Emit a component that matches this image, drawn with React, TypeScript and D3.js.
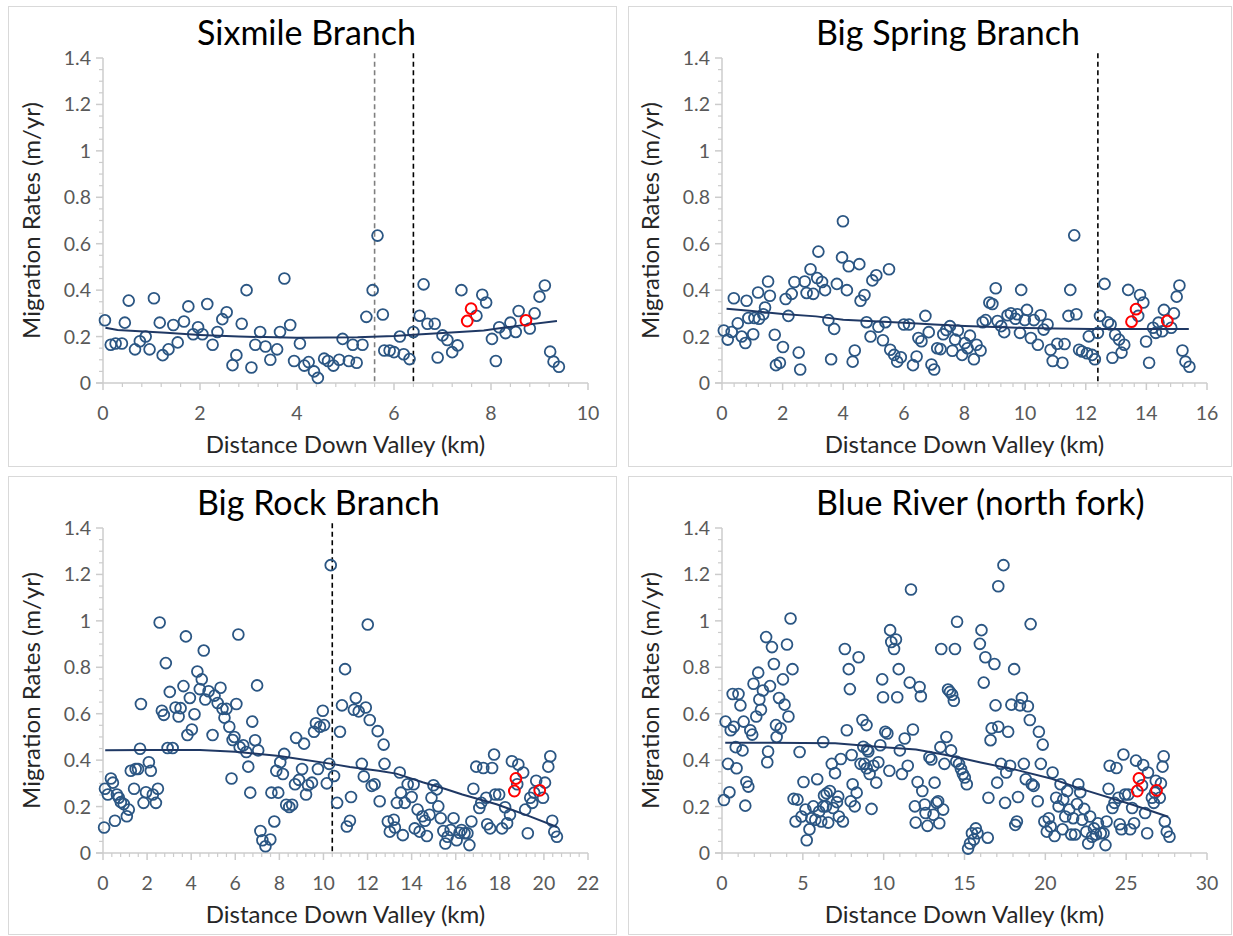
import React from 'react';
import * as d3 from 'd3';

type Pt = [number, number];

// ---------- Sixmile Branch ----------
const sixmilePoints: Pt[] = [
  [0.04,0.27],[0.16,0.165],[0.26,0.17],[0.39,0.17],[0.45,0.26],[0.53,0.355],[0.66,0.145],[0.76,0.18],[0.88,0.2],[0.96,0.145],
  [1.05,0.365],[1.17,0.26],[1.23,0.12],[1.35,0.145],[1.45,0.25],[1.54,0.175],[1.67,0.265],[1.76,0.33],[1.86,0.21],[1.96,0.24],
  [2.05,0.21],[2.15,0.34],[2.26,0.165],[2.36,0.22],[2.46,0.275],[2.55,0.305],[2.67,0.077],[2.75,0.12],[2.86,0.255],[2.96,0.4],
  [3.06,0.067],[3.14,0.165],[3.24,0.22],[3.35,0.157],[3.45,0.1],[3.59,0.145],[3.65,0.22],[3.74,0.45],[3.86,0.25],[3.94,0.095],
  [4.06,0.17],[4.15,0.075],[4.24,0.09],[4.35,0.05],[4.43,0.022],[4.56,0.105],[4.64,0.095],[4.75,0.075],[4.87,0.1],[4.94,0.19],
  [5.07,0.095],[5.15,0.165],[5.23,0.087],[5.35,0.165],[5.43,0.285],[5.56,0.4],[5.66,0.635],[5.77,0.295],[5.8,0.14],[5.91,0.14],
  [6.0,0.133],[6.12,0.2],[6.2,0.124],[6.32,0.103],[6.4,0.22],[6.53,0.29],[6.61,0.425],[6.69,0.255],[6.84,0.255],[6.9,0.11],
  [7.0,0.205],[7.1,0.185],[7.2,0.133],[7.31,0.162],[7.39,0.4],[7.7,0.29],[7.82,0.38],[7.9,0.347],[8.02,0.19],[8.1,0.095],
  [8.17,0.24],[8.3,0.215],[8.4,0.26],[8.51,0.22],[8.57,0.31],[8.8,0.235],[8.9,0.3],[9.0,0.372],[9.11,0.42],[9.22,0.135],
  [9.29,0.092],[9.4,0.07],
];
const sixmileHighlight: Pt[] = [[7.51,0.267],[7.59,0.32],[8.72,0.27]];
const sixmileTrend: Pt[] = [
  [0.05,0.238],[0.3,0.228],[1.3,0.216],[2.0,0.207],[2.8,0.2],[4.0,0.195],[5.25,0.197],[6.0,0.202],[6.4,0.208],
  [7.35,0.22],[7.85,0.226],[8.5,0.245],[9.36,0.267],
];

// ---------- Big Spring Branch ----------
const bigSpringPoints: Pt[] = [
  [0.06,0.226],[0.19,0.187],[0.32,0.22],[0.39,0.365],[0.52,0.257],[0.65,0.2],[0.77,0.172],[0.81,0.354],[0.87,0.28],[1.03,0.21],
  [1.07,0.28],[1.19,0.39],[1.22,0.277],[1.36,0.296],[1.42,0.325],[1.52,0.437],[1.58,0.376],[1.74,0.208],[1.78,0.077],[1.91,0.087],
  [2.01,0.155],[2.1,0.362],[2.19,0.289],[2.3,0.384],[2.39,0.435],[2.53,0.131],[2.58,0.058],[2.73,0.437],[2.79,0.388],[2.92,0.49],
  [3.01,0.384],[3.14,0.452],[3.18,0.566],[3.3,0.435],[3.4,0.4],[3.51,0.271],[3.6,0.102],[3.7,0.233],[3.79,0.427],[3.96,0.541],
  [3.99,0.697],[4.12,0.4],[4.18,0.503],[4.31,0.092],[4.38,0.14],[4.53,0.512],[4.57,0.354],[4.7,0.379],[4.77,0.262],[4.9,0.2],
  [4.96,0.442],[5.09,0.464],[5.16,0.242],[5.31,0.184],[5.39,0.262],[5.51,0.49],[5.55,0.143],[5.68,0.121],[5.78,0.092],[5.9,0.111],
  [6.0,0.252],[6.17,0.252],[6.3,0.077],[6.42,0.114],[6.48,0.194],[6.58,0.18],[6.71,0.289],[6.82,0.219],[6.91,0.08],[7.0,0.058],
  [7.1,0.15],[7.21,0.146],[7.3,0.21],[7.4,0.228],[7.52,0.245],[7.6,0.139],[7.69,0.187],[7.78,0.226],[7.92,0.121],[8.01,0.172],
  [8.1,0.15],[8.18,0.204],[8.31,0.102],[8.4,0.165],[8.53,0.14],[8.6,0.262],[8.7,0.271],[8.82,0.347],[8.92,0.34],[9.03,0.408],
  [9.09,0.267],[9.21,0.245],[9.31,0.219],[9.42,0.292],[9.53,0.3],[9.68,0.277],[9.74,0.296],[9.83,0.216],[9.87,0.401],[9.99,0.271],
  [10.06,0.315],[10.19,0.194],[10.29,0.271],[10.42,0.165],[10.51,0.292],[10.61,0.23],[10.74,0.252],[10.84,0.143],[10.91,0.095],[11.06,0.169],
  [11.23,0.087],[11.3,0.168],[11.43,0.289],[11.49,0.401],[11.62,0.636],[11.69,0.296],[11.78,0.143],[11.88,0.136],[12.04,0.128],[12.1,0.201],
  [12.21,0.121],[12.3,0.102],[12.4,0.216],[12.47,0.289],[12.62,0.427],[12.73,0.262],[12.82,0.252],[12.88,0.109],[12.97,0.208],[13.1,0.187],
  [13.18,0.131],[13.27,0.165],[13.4,0.401],[13.73,0.289],[13.79,0.379],[13.9,0.347],[13.99,0.179],[14.09,0.087],[14.22,0.238],[14.31,0.216],
  [14.4,0.26],[14.52,0.223],[14.58,0.315],[14.82,0.238],[14.91,0.3],[15.0,0.372],[15.09,0.42],[15.19,0.14],[15.29,0.092],[15.42,0.07],
];
const bigSpringHighlight: Pt[] = [[13.51,0.264],[13.66,0.318],[14.69,0.267]];
const bigSpringTrend: Pt[] = [
  [0.15,0.32],[1.0,0.31],[2.0,0.297],[3.1,0.287],[4.0,0.272],[5.0,0.266],[6.0,0.26],[7.0,0.252],[8.0,0.246],
  [9.0,0.241],[10.0,0.237],[11.0,0.235],[12.2,0.233],[13.5,0.233],[15.4,0.233],
];

// ---------- Big Rock Branch ----------
const bigRockPoints: Pt[] = [
  [0.05,0.11],[0.09,0.277],[0.22,0.252],[0.36,0.321],[0.45,0.303],[0.54,0.139],[0.63,0.252],[0.72,0.238],[0.81,0.219],[0.94,0.211],
  [1.08,0.158],[1.17,0.187],[1.26,0.354],[1.41,0.277],[1.48,0.362],[1.59,0.362],[1.68,0.449],[1.72,0.642],[1.84,0.216],[1.95,0.262],
  [2.08,0.391],[2.17,0.354],[2.26,0.252],[2.4,0.216],[2.49,0.277],[2.57,0.993],[2.67,0.613],[2.76,0.595],[2.85,0.818],[2.93,0.452],
  [3.03,0.694],[3.16,0.452],[3.29,0.627],[3.43,0.588],[3.52,0.624],[3.65,0.719],[3.76,0.933],[3.83,0.508],[3.94,0.668],[4.03,0.532],
  [4.15,0.598],[4.28,0.782],[4.39,0.706],[4.48,0.748],[4.57,0.872],[4.64,0.661],[4.79,0.697],[4.97,0.508],[5.06,0.678],[5.2,0.646],
  [5.33,0.712],[5.42,0.621],[5.51,0.583],[5.6,0.621],[5.73,0.544],[5.83,0.321],[5.88,0.487],[5.96,0.5],[6.05,0.642],[6.14,0.941],
  [6.2,0.456],[6.36,0.464],[6.5,0.435],[6.59,0.372],[6.68,0.26],[6.77,0.566],[6.9,0.486],[6.99,0.722],[7.04,0.442],[7.14,0.095],
  [7.23,0.055],[7.37,0.029],[7.59,0.058],[7.64,0.26],[7.77,0.136],[7.86,0.354],[7.95,0.26],[8.04,0.391],[8.16,0.34],[8.22,0.427],
  [8.31,0.208],[8.45,0.198],[8.58,0.208],[8.71,0.296],[8.76,0.496],[8.89,0.315],[9.03,0.362],[9.12,0.471],[9.21,0.252],[9.3,0.292],
  [9.48,0.303],[9.57,0.522],[9.66,0.559],[9.75,0.362],[9.84,0.544],[9.97,0.613],[10.03,0.551],[10.15,0.3],[10.26,0.384],[10.33,1.24],
  [10.48,0.332],[10.62,0.216],[10.75,0.522],[10.84,0.636],[10.98,0.792],[11.06,0.114],[11.2,0.139],[11.25,0.241],[11.38,0.617],[11.47,0.668],
  [11.6,0.61],[11.74,0.384],[11.83,0.33],[11.92,0.627],[12.01,0.984],[12.1,0.573],[12.19,0.289],[12.32,0.296],[12.46,0.525],[12.55,0.223],
  [12.73,0.467],[12.77,0.384],[12.92,0.136],[13.01,0.092],[13.19,0.143],[13.24,0.11],[13.33,0.216],[13.46,0.347],[13.51,0.26],[13.6,0.077],
  [13.69,0.216],[13.82,0.296],[14.0,0.241],[14.09,0.296],[14.14,0.106],[14.27,0.187],[14.36,0.092],[14.49,0.158],[14.6,0.139],[14.69,0.073],
  [14.81,0.165],[14.9,0.238],[14.99,0.292],[15.14,0.274],[15.21,0.201],[15.32,0.15],[15.44,0.095],[15.53,0.041],[15.63,0.07],[15.77,0.099],
  [15.9,0.15],[16.04,0.055],[16.17,0.087],[16.26,0.099],[16.4,0.085],[16.53,0.085],[16.62,0.034],[16.71,0.136],[16.8,0.277],[16.93,0.372],
  [17.07,0.194],[17.16,0.216],[17.25,0.366],[17.38,0.238],[17.43,0.124],[17.56,0.106],[17.65,0.366],[17.74,0.424],[17.79,0.252],[17.97,0.252],
  [18.1,0.106],[18.24,0.197],[18.33,0.128],[18.46,0.165],[18.55,0.395],[18.79,0.296],[18.84,0.381],[19.06,0.347],[19.15,0.187],[19.27,0.085],
  [19.38,0.238],[19.47,0.216],[19.56,0.26],[19.65,0.311],[19.96,0.238],[20.05,0.303],[20.2,0.372],[20.29,0.417],[20.38,0.139],[20.47,0.092],
  [20.59,0.07],
];
const bigRockHighlight: Pt[] = [[18.66,0.267],[18.73,0.321],[19.81,0.27]];
const bigRockTrend: Pt[] = [
  [0.1,0.443],[2.0,0.444],[4.4,0.444],[6.0,0.436],[8.0,0.418],[10.3,0.385],[11.2,0.37],[12.5,0.354],[13.3,0.342],
  [14.5,0.305],[15.5,0.277],[16.3,0.252],[17.85,0.21],[19.36,0.158],[20.6,0.112],
];

// ---------- Blue River (north fork) ----------
const blueRiverPoints: Pt[] = [
  [0.12,0.228],[0.22,0.566],[0.37,0.384],[0.46,0.262],[0.54,0.529],[0.66,0.685],[0.73,0.544],[0.85,0.456],[0.9,0.365],[1.02,0.685],
  [1.14,0.636],[1.27,0.442],[1.34,0.566],[1.44,0.204],[1.51,0.306],[1.63,0.286],[1.75,0.529],[1.87,0.51],[1.95,0.729],[2.12,0.588],
  [2.24,0.777],[2.31,0.661],[2.41,0.617],[2.53,0.7],[2.73,0.93],[2.8,0.391],[2.85,0.437],[2.97,0.719],[3.09,0.887],[3.21,0.814],
  [3.34,0.551],[3.38,0.5],[3.53,0.668],[3.63,0.537],[3.77,0.748],[3.87,0.639],[4.02,0.898],[4.11,0.588],[4.24,1.01],[4.36,0.792],
  [4.43,0.233],[4.55,0.136],[4.67,0.23],[4.8,0.435],[4.92,0.157],[5.04,0.306],[5.16,0.187],[5.24,0.055],[5.41,0.102],[5.53,0.15],
  [5.65,0.201],[5.77,0.143],[5.89,0.318],[6.01,0.179],[6.14,0.136],[6.26,0.478],[6.26,0.2],[6.31,0.248],[6.43,0.201],[6.47,0.257],
  [6.57,0.131],[6.67,0.267],[6.79,0.384],[6.87,0.194],[6.99,0.344],[7.11,0.219],[7.19,0.243],[7.23,0.157],[7.35,0.405],[7.48,0.136],
  [7.6,0.879],[7.72,0.529],[7.84,0.792],[7.91,0.706],[7.96,0.223],[8.02,0.422],[8.08,0.296],[8.21,0.201],[8.33,0.26],[8.45,0.843],
  [8.57,0.384],[8.69,0.573],[8.74,0.458],[8.81,0.384],[8.94,0.551],[8.95,0.365],[8.98,0.446],[9.05,0.437],[9.13,0.34],[9.25,0.19],
  [9.37,0.376],[9.54,0.303],[9.67,0.391],[9.79,0.464],[9.91,0.748],[9.96,0.671],[10.1,0.522],[10.23,0.515],[10.35,0.354],[10.4,0.96],
  [10.47,0.909],[10.64,0.879],[10.76,0.92],[10.84,0.671],[10.93,0.792],[11.0,0.442],[11.13,0.34],[11.3,0.493],[11.49,0.376],[11.61,0.734],
  [11.69,1.135],[11.81,0.532],[11.93,0.201],[11.98,0.131],[12.1,0.306],[12.22,0.715],[12.3,0.675],[12.39,0.267],[12.54,0.209],[12.59,0.172],
  [12.71,0.117],[12.83,0.413],[12.95,0.403],[13.08,0.165],[13.15,0.303],[13.27,0.216],[13.37,0.223],[13.44,0.128],[13.51,0.456],[13.56,0.879],
  [13.68,0.187],[13.76,0.384],[13.88,0.5],[13.98,0.704],[14.1,0.694],[14.17,0.442],[14.24,0.682],[14.34,0.656],[14.41,0.879],[14.49,0.394],
  [14.54,0.996],[14.66,0.384],[14.78,0.362],[14.9,0.34],[15.02,0.325],[15.14,0.296],[15.22,0.019],[15.34,0.041],[15.46,0.085],[15.58,0.058],
  [15.7,0.106],[15.8,0.085],[15.95,0.901],[16.05,0.96],[16.19,0.734],[16.29,0.843],[16.44,0.066],[16.48,0.238],[16.61,0.486],[16.68,0.537],
  [16.85,0.814],[16.92,0.636],[17.02,0.303],[17.09,0.544],[17.09,1.149],[17.26,0.384],[17.41,1.24],[17.51,0.216],[17.58,0.347],[17.7,0.522],
  [17.82,0.376],[17.9,0.639],[18.07,0.792],[18.14,0.121],[18.24,0.136],[18.31,0.241],[18.43,0.636],[18.55,0.668],[18.67,0.384],[18.79,0.318],
  [18.92,0.632],[19.04,0.573],[19.09,0.986],[19.16,0.296],[19.28,0.289],[19.53,0.223],[19.6,0.522],[19.72,0.384],[19.84,0.467],[19.94,0.136],
  [20.09,0.092],[20.21,0.15],[20.33,0.114],[20.45,0.347],[20.57,0.073],[20.67,0.238],[20.82,0.201],[20.94,0.296],[21.06,0.102],[21.11,0.23],
  [21.23,0.157],[21.35,0.267],[21.48,0.187],[21.6,0.08],[21.72,0.15],[21.84,0.08],[21.96,0.211],[22.04,0.296],[22.16,0.262],[22.28,0.143],
  [22.4,0.19],[22.53,0.092],[22.65,0.041],[22.77,0.157],[22.89,0.07],[23.01,0.106],[23.13,0.08],[23.25,0.128],[23.43,0.085],[23.6,0.085],
  [23.72,0.034],[23.79,0.136],[23.91,0.277],[23.98,0.376],[24.15,0.194],[24.28,0.216],[24.4,0.366],[24.52,0.238],[24.6,0.124],[24.71,0.102],
  [24.83,0.424],[24.93,0.252],[25.13,0.252],[25.25,0.102],[25.37,0.194],[25.49,0.128],[25.61,0.398],[25.98,0.292],[26.05,0.379],[26.17,0.172],
  [26.3,0.085],[26.35,0.347],[26.59,0.238],[26.71,0.216],[26.78,0.26],[26.83,0.311],[27.08,0.238],[27.15,0.3],[27.25,0.372],[27.32,0.417],
  [27.39,0.136],[27.51,0.092],[27.68,0.07],
];
const blueRiverHighlight: Pt[] = [[25.69,0.267],[25.79,0.321],[26.88,0.27]];
const blueRiverTrend: Pt[] = [
  [0.2,0.475],[3.0,0.475],[7.0,0.473],[10.0,0.456],[12.0,0.446],[13.7,0.424],[14.7,0.41],[16.0,0.39],
  [18.2,0.358],[20.4,0.32],[22.3,0.274],[25.4,0.208],[27.6,0.156],
];

// ---------- axes ----------
const yTickValues = [0, 0.2, 0.4, 0.6, 0.8, 1, 1.2, 1.4];
const yTickLabels = ['0', '0.2', '0.4', '0.6', '0.8', '1', '1.2', '1.4'];

const titles = ['Sixmile Branch', 'Big Spring Branch', 'Big Rock Branch', 'Blue River (north fork)'];
const xMaxes = [10, 16, 22, 30];
const xMajorSteps = [2, 2, 2, 5];
const xMinorSteps = [0.4, 0.4, 0.4, 1];
const dividerLines: { x: number; kind: 'gray' | 'black' }[][] = [
  [{ x: 5.6, kind: 'gray' }, { x: 6.4, kind: 'black' }],
  [{ x: 12.4, kind: 'black' }],
  [{ x: 10.4, kind: 'black' }],
  [],
];

const FONT = 'Lato, "Open Sans", sans-serif';
const AXIS = '#cccccc';
const BLUE = '#2b5683';
const RED = '#ff0000';
const NAVY = '#1f3864';

interface PanelProps {
  ox: number;
  oy: number;
  frameX: number;
  frameW: number;
  frameH: number;
  title: string;
  xMax: number;
  xStep: number;
  xMinor: number;
  points: Pt[];
  highlight: Pt[];
  trend: Pt[];
  dividers: { x: number; kind: 'gray' | 'black' }[];
}

function Panel(p: PanelProps) {
  const x = d3.scaleLinear().domain([0, p.xMax]).range([p.ox + 95, p.ox + 580]);
  const y = d3.scaleLinear().domain([0, 1.4]).range([p.oy + 377, p.oy + 52]);
  const line = d3.line<Pt>().x(d => x(d[0])).y(d => y(d[1]));
  const xMajor = d3.range(0, p.xMax + 1e-9, p.xStep);
  const xMinorT = d3.range(0, p.xMax + 1e-9, p.xMinor).filter(v => !xMajor.some(m => Math.abs(m - v) < 1e-6));
  const yMinorT = d3.range(0, 1.4 + 1e-9, 0.05).filter(v => !yTickValues.some(m => Math.abs(m - v) < 1e-6));
  const x0 = x(0);
  const y0 = y(0);
  const xr = x(p.xMax);
  const yTop = y(1.4);
  const midX = (x0 + xr) / 2;
  const midY = (y0 + yTop) / 2;

  return (
    <g>
      <rect x={p.frameX + 0.5} y={p.oy + 0.5} width={p.frameW} height={p.frameH} fill="#fff" stroke="#d9d9d9" strokeWidth={1} />
      <text x={p.ox + 189} y={p.oy + 39} fontFamily={FONT} fontSize={34} fill="#000">{p.title}</text>

      {/* axes */}
      <line x1={x0} x2={x0} y1={yTop} y2={y0} stroke={AXIS} strokeWidth={1.5} />
      <line x1={x0 - 7} x2={xr} y1={y0} y2={y0} stroke={AXIS} strokeWidth={1.5} />
      {yTickValues.map(v => (
        <line key={'ym' + v} x1={x0 - 7} x2={x0} y1={y(v)} y2={y(v)} stroke={AXIS} strokeWidth={1.5} />
      ))}
      {yMinorT.map(v => (
        <line key={'yn' + v} x1={x0 - 4} x2={x0} y1={y(v)} y2={y(v)} stroke={AXIS} strokeWidth={1.2} />
      ))}
      {xMajor.map(v => (
        <line key={'xm' + v} x1={x(v)} x2={x(v)} y1={y0} y2={y0 + 7} stroke={AXIS} strokeWidth={1.5} />
      ))}
      {xMinorT.map(v => (
        <line key={'xn' + v} x1={x(v)} x2={x(v)} y1={y0} y2={y0 + 4} stroke={AXIS} strokeWidth={1.2} />
      ))}
      {yTickValues.map((v, i) => (
        <text key={'yl' + v} x={x0 - 12} y={y(v) + 7} textAnchor="end" fontFamily={FONT} fontSize={19.5} fill="#595959">
          {yTickLabels[i]}
        </text>
      ))}
      {xMajor.map(v => (
        <text key={'xl' + v} x={x(v)} y={y0 + 37} textAnchor="middle" fontFamily={FONT} fontSize={19.5} fill="#595959">
          {d3.format('d')(v)}
        </text>
      ))}
      <text x={midX} y={y0 + 70} textAnchor="middle" fontFamily={FONT} fontSize={24} fill="#262626">
        Distance Down Valley (km)
      </text>
      <text transform={`translate(${p.ox + 32},${midY}) rotate(-90)`} textAnchor="middle" fontFamily={FONT} fontSize={24} fill="#262626">
        Migration Rates (m/yr)
      </text>

      {/* reach boundaries */}
      {p.dividers.map(d => (
        <line key={'dv' + d.x} x1={x(d.x)} x2={x(d.x)} y1={y(1.42)} y2={y0}
          stroke={d.kind === 'gray' ? '#7f7f7f' : '#000'} strokeWidth={1.6} strokeDasharray="5,3.5" />
      ))}

      {/* observations */}
      {p.points.map((d, i) => (
        <circle key={'pt' + i} cx={x(d[0])} cy={y(d[1])} r={5.4} fill="none" stroke={BLUE} strokeWidth={1.8} />
      ))}
      <path d={line(p.trend) || ''} fill="none" stroke={NAVY} strokeWidth={2} />
      {p.highlight.map((d, i) => (
        <circle key={'hl' + i} cx={x(d[0])} cy={y(d[1])} r={5.4} fill="none" stroke={RED} strokeWidth={2} />
      ))}
    </g>
  );
}

const pointSets = [sixmilePoints, bigSpringPoints, bigRockPoints, blueRiverPoints];
const highlightSets = [sixmileHighlight, bigSpringHighlight, bigRockHighlight, blueRiverHighlight];
const trendSets = [sixmileTrend, bigSpringTrend, bigRockTrend, blueRiverTrend];

export default function App() {
  const origins = [
    { ox: 8, oy: 6, fx: 8, fw: 608, fh: 460 },
    { ox: 627, oy: 6, fx: 628, fw: 603, fh: 460 },
    { ox: 8, oy: 476, fx: 8, fw: 608, fh: 458 },
    { ox: 627, oy: 476, fx: 628, fw: 603, fh: 458 },
  ];
  return (
    <svg width={1233} height={936} style={{ position: 'absolute', left: 0, top: 0, background: '#fff' }}>
      <rect x={0} y={0} width={1233} height={936} fill="#fff" />
      {origins.map((o, i) => (
        <Panel key={i} ox={o.ox} oy={o.oy} frameX={o.fx} frameW={o.fw} frameH={o.fh}
          title={titles[i]} xMax={xMaxes[i]} xStep={xMajorSteps[i]} xMinor={xMinorSteps[i]}
          points={pointSets[i]} highlight={highlightSets[i]} trend={trendSets[i]} dividers={dividerLines[i]} />
      ))}
    </svg>
  );
}
